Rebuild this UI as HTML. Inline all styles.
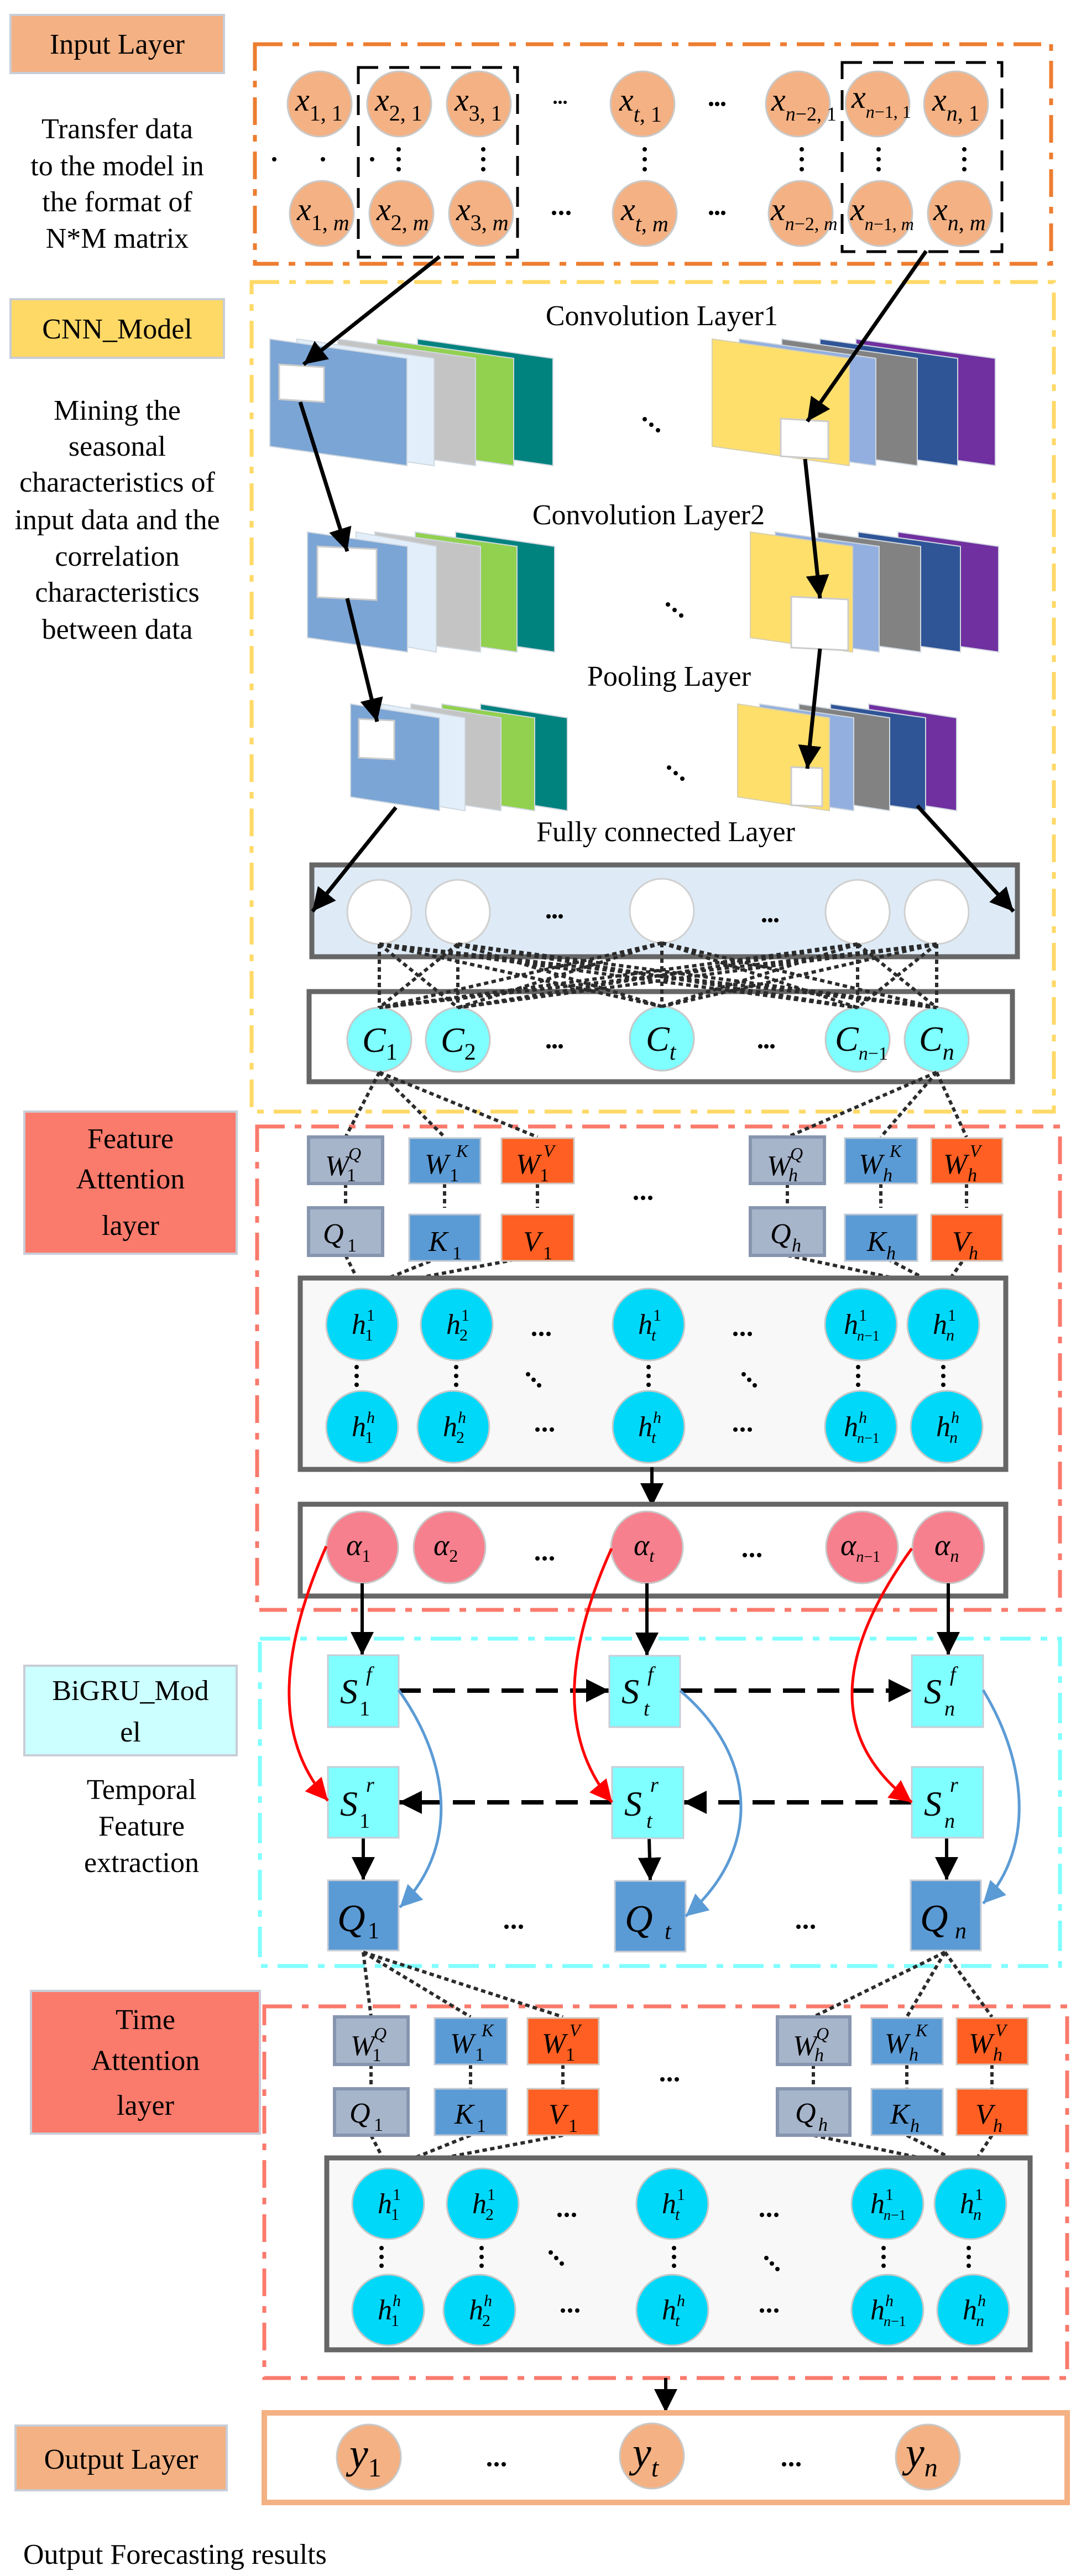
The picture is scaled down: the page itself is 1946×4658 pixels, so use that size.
<!DOCTYPE html>
<html><head><meta charset="utf-8"><style>
html,body{margin:0;padding:0;background:#fff;}
svg{display:block;}
text{font-family:"Liberation Serif",serif;fill:#000;}
.lbl{font-size:52px;text-anchor:middle;}
.m{font-style:italic;}
</style></head><body>
<svg width="1946" height="4658" viewBox="0 0 1946 4658" xmlns="http://www.w3.org/2000/svg">
<defs>
<marker id="ab" viewBox="0 0 10 10" refX="10" refY="5" markerWidth="42" markerHeight="42" markerUnits="userSpaceOnUse" orient="auto"><path d="M0,0 L10,5 L0,10z" fill="#000"/></marker>
<marker id="ar" viewBox="0 0 10 10" refX="10" refY="5" markerWidth="40" markerHeight="40" markerUnits="userSpaceOnUse" orient="auto"><path d="M0,0 L10,5 L0,10z" fill="#f00"/></marker>
<marker id="abl" viewBox="0 0 10 10" refX="10" refY="5" markerWidth="40" markerHeight="40" markerUnits="userSpaceOnUse" orient="auto"><path d="M0,0 L10,5 L0,10z" fill="#5B9BD5"/></marker>
</defs>

<!-- ============ LEFT LABELS ============ -->
<rect x="19" y="27" width="386" height="105" fill="#F4B183" stroke="#C8CDD6" stroke-width="4"/>
<text class="lbl" x="212" y="97">Input Layer</text>
<text class="lbl" x="212" y="250">Transfer data</text>
<text class="lbl" x="212" y="317">to the model in</text>
<text class="lbl" x="212" y="382">the format of</text>
<text class="lbl" x="212" y="448">N*M matrix</text>

<rect x="19" y="541" width="386" height="106" fill="#FFD966" stroke="#C8CDD6" stroke-width="4"/>
<text class="lbl" x="212" y="612">CNN_Model</text>
<text class="lbl" x="212" y="759">Mining the</text>
<text class="lbl" x="212" y="824">seasonal</text>
<text class="lbl" x="212" y="889">characteristics of</text>
<text class="lbl" x="212" y="957">input data and the</text>
<text class="lbl" x="212" y="1023">correlation</text>
<text class="lbl" x="212" y="1088">characteristics</text>
<text class="lbl" x="212" y="1155">between data</text>

<rect x="44" y="2010" width="384" height="257" fill="#FA7A6C" stroke="#C8CDD6" stroke-width="4"/>
<text class="lbl" x="236" y="2076">Feature</text>
<text class="lbl" x="236" y="2149">Attention</text>
<text class="lbl" x="236" y="2233">layer</text>

<rect x="44" y="3012" width="384" height="162" fill="#CCFFFF" stroke="#C8CDD6" stroke-width="4"/>
<text class="lbl" x="236" y="3074">BiGRU_Mod</text>
<text class="lbl" x="236" y="3149">el</text>
<text class="lbl" x="256" y="3253">Temporal</text>
<text class="lbl" x="256" y="3319">Feature</text>
<text class="lbl" x="256" y="3385">extraction</text>

<rect x="56" y="3600" width="414" height="258" fill="#FA7A6C" stroke="#C8CDD6" stroke-width="4"/>
<text class="lbl" x="263" y="3669">Time</text>
<text class="lbl" x="263" y="3743">Attention</text>
<text class="lbl" x="263" y="3824">layer</text>

<rect x="28" y="4386" width="382" height="117" fill="#F4B183" stroke="#C8CDD6" stroke-width="4"/>
<text class="lbl" x="219" y="4464">Output Layer</text>
<text x="42" y="4636" style="font-size:52px">Output Forecasting results</text>

<!-- ============ INPUT LAYER ============ -->
<rect x="461" y="80" width="1440" height="397" fill="none" stroke="#ED7D31" stroke-width="7" stroke-dasharray="50 18 12 18"/>
<rect x="648" y="122" width="288" height="343" fill="none" stroke="#000" stroke-width="5" stroke-dasharray="36 20"/>
<rect x="1523" y="113" width="289" height="342" fill="none" stroke="#000" stroke-width="5" stroke-dasharray="36 20"/>
<g fill="#F4B183" stroke="#C9C9C9" stroke-width="3">
<ellipse cx="578" cy="188" rx="58" ry="59"/><ellipse cx="722" cy="188" rx="58" ry="59"/><ellipse cx="866" cy="188" rx="58" ry="59"/><ellipse cx="1162" cy="188" rx="58" ry="59"/><ellipse cx="1443" cy="188" rx="58" ry="59"/><ellipse cx="1587" cy="188" rx="58" ry="59"/><ellipse cx="1729" cy="188" rx="58" ry="59"/>
<ellipse cx="582" cy="386" rx="58" ry="59"/><ellipse cx="726" cy="386" rx="58" ry="59"/><ellipse cx="870" cy="386" rx="58" ry="59"/><ellipse cx="1166" cy="386" rx="58" ry="59"/><ellipse cx="1448" cy="386" rx="58" ry="59"/><ellipse cx="1592" cy="386" rx="58" ry="59"/><ellipse cx="1736" cy="386" rx="58" ry="59"/>
</g>
<g style="font-size:58px">
<text x="534" y="200"><tspan class="m">x</tspan><tspan style="font-size:40px" dy="18">1, 1</tspan></text>
<text x="678" y="200"><tspan class="m">x</tspan><tspan style="font-size:40px" dy="18">2, 1</tspan></text>
<text x="822" y="200"><tspan class="m">x</tspan><tspan style="font-size:40px" dy="18">3, 1</tspan></text>
<text x="1120" y="200"><tspan class="m">x</tspan><tspan style="font-size:40px" dy="20"><tspan class="m">t</tspan>, 1</tspan></text>
<text x="1395" y="200"><tspan class="m">x</tspan><tspan style="font-size:36px" dy="18"><tspan class="m">n</tspan>−2, 1</tspan></text>
<text x="1540" y="195"><tspan class="m">x</tspan><tspan style="font-size:32px" dy="18"><tspan class="m">n</tspan>−1, 1</tspan></text>
<text x="1686" y="200"><tspan class="m">x</tspan><tspan style="font-size:40px" dy="18"><tspan class="m">n</tspan>, 1</tspan></text>
<text x="537" y="398"><tspan class="m">x</tspan><tspan style="font-size:40px" dy="18">1, <tspan class="m">m</tspan></tspan></text>
<text x="681" y="398"><tspan class="m">x</tspan><tspan style="font-size:40px" dy="18">2, <tspan class="m">m</tspan></tspan></text>
<text x="825" y="398"><tspan class="m">x</tspan><tspan style="font-size:40px" dy="18">3, <tspan class="m">m</tspan></tspan></text>
<text x="1123" y="398"><tspan class="m">x</tspan><tspan style="font-size:40px" dy="20"><tspan class="m">t</tspan>, <tspan class="m">m</tspan></tspan></text>
<text x="1394" y="398"><tspan class="m">x</tspan><tspan style="font-size:34px" dy="18"><tspan class="m">n</tspan>−2, <tspan class="m">m</tspan></tspan></text>
<text x="1538" y="398"><tspan class="m">x</tspan><tspan style="font-size:32px" dy="18"><tspan class="m">n</tspan>−1, <tspan class="m">m</tspan></tspan></text>
<text x="1688" y="398"><tspan class="m">x</tspan><tspan style="font-size:40px" dy="18"><tspan class="m">n</tspan>, <tspan class="m">m</tspan></tspan></text>
</g>
<g fill="#000">
<circle cx="496" cy="288" r="4"/><circle cx="584" cy="288" r="4"/><circle cx="673" cy="288" r="4"/>
<circle cx="721" cy="270" r="4"/><circle cx="721" cy="288" r="4"/><circle cx="721" cy="306" r="4"/>
<circle cx="874" cy="270" r="4"/><circle cx="874" cy="288" r="4"/><circle cx="874" cy="306" r="4"/>
<circle cx="1166" cy="270" r="4"/><circle cx="1166" cy="288" r="4"/><circle cx="1166" cy="306" r="4"/>
<circle cx="1450" cy="270" r="4"/><circle cx="1450" cy="288" r="4"/><circle cx="1450" cy="306" r="4"/>
<circle cx="1589" cy="270" r="4"/><circle cx="1589" cy="288" r="4"/><circle cx="1589" cy="306" r="4"/>
<circle cx="1744" cy="270" r="4"/><circle cx="1744" cy="288" r="4"/><circle cx="1744" cy="306" r="4"/>
<circle cx="1004" cy="185" r="3"/><circle cx="1013" cy="185" r="3"/><circle cx="1022" cy="185" r="3"/>
<circle cx="1286" cy="188" r="4"/><circle cx="1297" cy="188" r="4"/><circle cx="1308" cy="188" r="4"/>
<circle cx="1002" cy="385" r="4"/><circle cx="1015" cy="385" r="4"/><circle cx="1028" cy="385" r="4"/>
<circle cx="1286" cy="385" r="4"/><circle cx="1297" cy="385" r="4"/><circle cx="1308" cy="385" r="4"/>
</g>

<!-- ============ CNN ============ -->
<rect x="455" y="510" width="1451" height="1500" fill="none" stroke="#FFD966" stroke-width="7" stroke-dasharray="50 18 12 18"/>
<text class="lbl" x="1197" y="588">Convolution Layer1</text>
<text class="lbl" x="1173" y="948">Convolution Layer2</text>
<text class="lbl" x="1210" y="1240">Pooling Layer</text>
<text class="lbl" x="1204" y="1521">Fully connected Layer</text>

<g stroke="#D0D8E0" stroke-width="2">
<polygon points="755,613 1000,648 1000,842 755,807" fill="#00827F"/>
<polygon points="682,613 929,648 929,842 682,807" fill="#92D050"/>
<polygon points="611,613 860,648 860,842 611,807" fill="#C4C4C4"/>
<polygon points="537,613 785,648 785,842 537,807" fill="#E2EFFA"/>
<polygon points="488,613 736,648 736,842 488,807" fill="#7BA5D5"/>
<polygon points="505,659 586,664 586,727 505,722" fill="#fff" stroke="#ccc" stroke-width="3"/>
<polygon points="1548,613 1800,648 1800,842 1548,807" fill="#7030A0"/>
<polygon points="1483,613 1732,648 1732,842 1483,807" fill="#2F5597"/>
<polygon points="1414,613 1659,648 1659,842 1414,807" fill="#828282"/>
<polygon points="1337,613 1584,648 1584,842 1337,807" fill="#93AFE0"/>
<polygon points="1288,613 1536,648 1536,842 1288,807" fill="#FFDF6B" stroke="#D6D0B0"/>
<polygon points="1412,757 1498,762 1498,830 1412,825" fill="#fff" stroke="#ccc" stroke-width="3"/>
<polygon points="824,962 1003,988 1003,1179 824,1153" fill="#00827F"/>
<polygon points="751,962 935,988 935,1179 751,1153" fill="#92D050"/>
<polygon points="678,962 869,988 869,1179 678,1153" fill="#C4C4C4"/>
<polygon points="644,962 789,988 789,1179 644,1153" fill="#E2EFFA"/>
<polygon points="556,962 737,988 737,1179 556,1153" fill="#7BA5D5"/>
<polygon points="574,988 681,993 681,1085 574,1080" fill="#fff" stroke="#ccc" stroke-width="3"/>
<polygon points="1624,962 1806,988 1806,1179 1624,1153" fill="#7030A0"/>
<polygon points="1552,962 1737,988 1737,1179 1552,1153" fill="#2F5597"/>
<polygon points="1479,962 1665,988 1665,1179 1479,1153" fill="#828282"/>
<polygon points="1402,962 1590,988 1590,1179 1402,1153" fill="#93AFE0"/>
<polygon points="1357,962 1542,988 1542,1179 1357,1153" fill="#FFDF6B" stroke="#D6D0B0"/>
<polygon points="1431,1079 1534,1084 1534,1176 1431,1171" fill="#fff" stroke="#ccc" stroke-width="3"/>
<polygon points="869,1273 1026,1298 1026,1466 869,1441" fill="#00827F"/>
<polygon points="799,1273 967,1298 967,1466 799,1441" fill="#92D050"/>
<polygon points="743,1273 906,1298 906,1466 743,1441" fill="#C4C4C4"/>
<polygon points="690,1273 841,1298 841,1466 690,1441" fill="#E2EFFA"/>
<polygon points="634,1273 795,1298 795,1466 634,1441" fill="#7BA5D5"/>
<polygon points="649,1300 713,1303 713,1373 649,1370" fill="#fff" stroke="#ccc" stroke-width="3"/>
<polygon points="1571,1273 1730,1298 1730,1466 1571,1441" fill="#7030A0"/>
<polygon points="1502,1273 1674,1298 1674,1466 1502,1441" fill="#2F5597"/>
<polygon points="1445,1273 1609,1298 1609,1466 1445,1441" fill="#828282"/>
<polygon points="1374,1273 1544,1298 1544,1466 1374,1441" fill="#93AFE0"/>
<polygon points="1334,1273 1500,1298 1500,1466 1334,1441" fill="#FFDF6B" stroke="#D6D0B0"/>
<polygon points="1431,1387 1487,1389 1487,1458 1431,1456" fill="#fff" stroke="#ccc" stroke-width="3"/>
</g>
<g fill="#000">
<circle cx="1166" cy="758" r="4"/><circle cx="1178" cy="768" r="4"/><circle cx="1190" cy="778" r="4"/>
<circle cx="1208" cy="1093" r="4"/><circle cx="1220" cy="1103" r="4"/><circle cx="1232" cy="1113" r="4"/>
<circle cx="1210" cy="1388" r="4"/><circle cx="1222" cy="1398" r="4"/><circle cx="1234" cy="1408" r="4"/>
</g>
<g stroke="#000" stroke-width="7" fill="none" marker-end="url(#ab)">
<line x1="795" y1="464" x2="549" y2="659"/>
<line x1="1675" y1="454" x2="1460" y2="762"/>
<line x1="543" y1="727" x2="628" y2="997"/>
<line x1="1456" y1="830" x2="1483" y2="1082"/>
<line x1="628" y1="1082" x2="682" y2="1305"/>
<line x1="1483" y1="1173" x2="1460" y2="1390"/>
</g>

<!-- FC box -->
<rect x="564" y="1564" width="1276" height="166" fill="#DEEBF7" stroke="#666" stroke-width="9"/>
<g stroke="#000" stroke-width="7" fill="none" marker-end="url(#ab)">
<line x1="716" y1="1460" x2="565" y2="1648"/>
<line x1="1659" y1="1457" x2="1833" y2="1648"/>
</g>
<g fill="#fff" stroke="#D0D0D0" stroke-width="3">
<ellipse cx="686" cy="1649" rx="58" ry="58"/><ellipse cx="828" cy="1649" rx="58" ry="58"/><ellipse cx="1197" cy="1647" rx="58" ry="58"/><ellipse cx="1551" cy="1649" rx="58" ry="58"/><ellipse cx="1694" cy="1649" rx="58" ry="58"/>
</g>
<rect x="559" y="1793" width="1272" height="163" fill="#fff" stroke="#666" stroke-width="9"/>
<g fill="#7FFFFF" stroke="#C8C8C8" stroke-width="3">
<ellipse cx="686" cy="1880" rx="58" ry="58"/><ellipse cx="828" cy="1880" rx="58" ry="58"/><ellipse cx="1197" cy="1878" rx="58" ry="58"/><ellipse cx="1551" cy="1880" rx="58" ry="58"/><ellipse cx="1694" cy="1880" rx="58" ry="58"/>
</g>
<g fill="#000">
<circle cx="992" cy="1657" r="4"/><circle cx="1003" cy="1657" r="4"/><circle cx="1014" cy="1657" r="4"/>
<circle cx="1382" cy="1664" r="4"/><circle cx="1393" cy="1664" r="4"/><circle cx="1404" cy="1664" r="4"/>
<circle cx="992" cy="1892" r="4"/><circle cx="1003" cy="1892" r="4"/><circle cx="1014" cy="1892" r="4"/>
<circle cx="1375" cy="1892" r="4"/><circle cx="1386" cy="1892" r="4"/><circle cx="1397" cy="1892" r="4"/>
</g>
<g stroke="#2B2B2B" stroke-width="6" stroke-dasharray="8 6" fill="none">
<line x1="686" y1="1707" x2="686" y2="1822"/><line x1="686" y1="1707" x2="828" y2="1822"/><line x1="686" y1="1707" x2="1197" y2="1820"/><line x1="686" y1="1707" x2="1551" y2="1822"/><line x1="686" y1="1707" x2="1694" y2="1822"/>
<line x1="828" y1="1707" x2="686" y2="1822"/><line x1="828" y1="1707" x2="828" y2="1822"/><line x1="828" y1="1707" x2="1197" y2="1820"/><line x1="828" y1="1707" x2="1551" y2="1822"/><line x1="828" y1="1707" x2="1694" y2="1822"/>
<line x1="1197" y1="1705" x2="686" y2="1822"/><line x1="1197" y1="1705" x2="828" y2="1822"/><line x1="1197" y1="1705" x2="1197" y2="1820"/><line x1="1197" y1="1705" x2="1551" y2="1822"/><line x1="1197" y1="1705" x2="1694" y2="1822"/>
<line x1="1551" y1="1707" x2="686" y2="1822"/><line x1="1551" y1="1707" x2="828" y2="1822"/><line x1="1551" y1="1707" x2="1197" y2="1820"/><line x1="1551" y1="1707" x2="1551" y2="1822"/><line x1="1551" y1="1707" x2="1694" y2="1822"/>
<line x1="1694" y1="1707" x2="686" y2="1822"/><line x1="1694" y1="1707" x2="828" y2="1822"/><line x1="1694" y1="1707" x2="1197" y2="1820"/><line x1="1694" y1="1707" x2="1551" y2="1822"/><line x1="1694" y1="1707" x2="1694" y2="1822"/>
</g>
<g style="font-size:64px" class="m">
<text x="655" y="1902">C<tspan style="font-size:42px;font-style:normal" dy="14">1</tspan></text>
<text x="797" y="1902">C<tspan style="font-size:42px;font-style:normal" dy="14">2</tspan></text>
<text x="1168" y="1900">C<tspan style="font-size:42px" dy="16">t</tspan></text>
<text x="1510" y="1900">C<tspan style="font-size:34px" dy="16">n<tspan style="font-style:normal">−1</tspan></tspan></text>
<text x="1662" y="1900">C<tspan style="font-size:42px" dy="16">n</tspan></text>
</g>

<!-- ============ FEATURE ATTENTION ============ -->
<rect x="465" y="2037" width="1452" height="874" fill="none" stroke="#FA7A6C" stroke-width="7" stroke-dasharray="50 18 12 18"/>
<g stroke="#2B2B2B" stroke-width="6" stroke-dasharray="8 6" fill="none">
<line x1="686" y1="1939" x2="625" y2="2056"/><line x1="686" y1="1939" x2="804" y2="2056"/><line x1="686" y1="1939" x2="972" y2="2056"/>
<line x1="1694" y1="1939" x2="1424" y2="2056"/><line x1="1694" y1="1939" x2="1593" y2="2056"/><line x1="1694" y1="1939" x2="1748" y2="2056"/>
<line x1="625" y1="2140" x2="625" y2="2184"/><line x1="804" y1="2140" x2="804" y2="2184"/><line x1="972" y1="2140" x2="972" y2="2184"/>
<line x1="1424" y1="2140" x2="1424" y2="2184"/><line x1="1593" y1="2140" x2="1593" y2="2184"/><line x1="1748" y1="2140" x2="1748" y2="2184"/>
<line x1="625" y1="2270" x2="655" y2="2330"/><line x1="804" y1="2270" x2="655" y2="2330"/><line x1="972" y1="2270" x2="655" y2="2330"/>
<line x1="1424" y1="2270" x2="1706" y2="2330"/><line x1="1593" y1="2270" x2="1706" y2="2330"/><line x1="1748" y1="2270" x2="1706" y2="2330"/>
</g>
<g>
<rect x="558" y="2056" width="134" height="84" fill="#A7B5CB" stroke="#8796AE" stroke-width="6"/>
<rect x="740" y="2058" width="129" height="82" fill="#5B9BD5" stroke="#C0C8D4" stroke-width="3"/>
<rect x="907" y="2058" width="131" height="82" fill="#FF5F22" stroke="#D0C8C0" stroke-width="3"/>
<rect x="1357" y="2056" width="134" height="84" fill="#A7B5CB" stroke="#8796AE" stroke-width="6"/>
<rect x="1528" y="2058" width="131" height="82" fill="#5B9BD5" stroke="#C0C8D4" stroke-width="3"/>
<rect x="1684" y="2058" width="129" height="82" fill="#FF5F22" stroke="#D0C8C0" stroke-width="3"/>
<rect x="558" y="2184" width="134" height="86" fill="#A7B5CB" stroke="#8796AE" stroke-width="6"/>
<rect x="740" y="2196" width="129" height="84" fill="#5B9BD5" stroke="#C0C8D4" stroke-width="3"/>
<rect x="907" y="2196" width="131" height="84" fill="#FF5F22" stroke="#D0C8C0" stroke-width="3"/>
<rect x="1357" y="2184" width="134" height="86" fill="#A7B5CB" stroke="#8796AE" stroke-width="6"/>
<rect x="1528" y="2196" width="131" height="84" fill="#5B9BD5" stroke="#C0C8D4" stroke-width="3"/>
<rect x="1684" y="2196" width="129" height="84" fill="#FF5F22" stroke="#D0C8C0" stroke-width="3"/>
</g>
<g style="font-size:52px">
<text x="588" y="2125" class="m">W</text><text x="630" y="2097" class="m" style="font-size:32px">Q</text><text x="627" y="2136" style="font-size:34px">1</text>
<text x="768" y="2122" class="m">W</text><text x="825" y="2092" class="m" style="font-size:32px">K</text><text x="813" y="2136" style="font-size:34px">1</text>
<text x="933" y="2122" class="m">W</text><text x="983" y="2092" class="m" style="font-size:32px">V</text><text x="976" y="2136" style="font-size:34px">1</text>
<text x="1387" y="2125" class="m">W</text><text x="1429" y="2097" class="m" style="font-size:32px">Q</text><text x="1426" y="2136" class="m" style="font-size:34px">h</text>
<text x="1553" y="2122" class="m">W</text><text x="1609" y="2092" class="m" style="font-size:32px">K</text><text x="1597" y="2136" class="m" style="font-size:34px">h</text>
<text x="1706" y="2122" class="m">W</text><text x="1754" y="2092" class="m" style="font-size:32px">V</text><text x="1750" y="2136" class="m" style="font-size:34px">h</text>
<text x="584" y="2248" class="m">Q</text><text x="628" y="2263" style="font-size:34px">1</text>
<text x="775" y="2262" class="m">K</text><text x="818" y="2277" style="font-size:34px">1</text>
<text x="946" y="2262" class="m">V</text><text x="982" y="2277" style="font-size:34px">1</text>
<text x="1393" y="2248" class="m">Q</text><text x="1432" y="2263" class="m" style="font-size:34px">h</text>
<text x="1568" y="2262" class="m">K</text><text x="1603" y="2277" class="m" style="font-size:34px">h</text>
<text x="1722" y="2262" class="m">V</text><text x="1752" y="2277" class="m" style="font-size:34px">h</text>
</g>
<g fill="#000"><circle cx="1150" cy="2166" r="4"/><circle cx="1163" cy="2166" r="4"/><circle cx="1176" cy="2166" r="4"/></g>

<rect x="543" y="2311" width="1276" height="346" fill="#F8F8F8" stroke="#666" stroke-width="9"/>
<g fill="#00D8FA" stroke="#C8C8C8" stroke-width="3">
<ellipse cx="655" cy="2395" rx="65" ry="65"/><ellipse cx="826" cy="2395" rx="65" ry="65"/><ellipse cx="1173" cy="2395" rx="65" ry="65"/><ellipse cx="1557" cy="2395" rx="65" ry="65"/><ellipse cx="1706" cy="2395" rx="65" ry="65"/>
<ellipse cx="655" cy="2580" rx="65" ry="65"/><ellipse cx="820" cy="2580" rx="65" ry="65"/><ellipse cx="1173" cy="2580" rx="65" ry="65"/><ellipse cx="1557" cy="2580" rx="65" ry="65"/><ellipse cx="1712" cy="2580" rx="65" ry="65"/>
</g>
<g fill="#000">
<circle cx="966" cy="2412" r="4"/><circle cx="979" cy="2412" r="4"/><circle cx="992" cy="2412" r="4"/>
<circle cx="1330" cy="2412" r="4"/><circle cx="1343" cy="2412" r="4"/><circle cx="1356" cy="2412" r="4"/>
<circle cx="972" cy="2585" r="4"/><circle cx="985" cy="2585" r="4"/><circle cx="998" cy="2585" r="4"/>
<circle cx="1330" cy="2585" r="4"/><circle cx="1343" cy="2585" r="4"/><circle cx="1356" cy="2585" r="4"/>
<circle cx="645" cy="2472" r="4"/><circle cx="645" cy="2488" r="4"/><circle cx="645" cy="2504" r="4"/>
<circle cx="825" cy="2472" r="4"/><circle cx="825" cy="2488" r="4"/><circle cx="825" cy="2504" r="4"/>
<circle cx="1173" cy="2472" r="4"/><circle cx="1173" cy="2488" r="4"/><circle cx="1173" cy="2504" r="4"/>
<circle cx="1552" cy="2472" r="4"/><circle cx="1552" cy="2488" r="4"/><circle cx="1552" cy="2504" r="4"/>
<circle cx="1706" cy="2472" r="4"/><circle cx="1706" cy="2488" r="4"/><circle cx="1706" cy="2504" r="4"/>
<circle cx="955" cy="2485" r="4"/><circle cx="965" cy="2495" r="4"/><circle cx="975" cy="2505" r="4"/>
<circle cx="1345" cy="2485" r="4"/><circle cx="1355" cy="2495" r="4"/><circle cx="1365" cy="2505" r="4"/>
</g>
<g style="font-size:52px">
<text x="636" y="2412" class="m">h</text><text x="663" y="2388" style="font-size:30px">1</text><text x="660" y="2424" style="font-size:30px">1</text>
<text x="807" y="2412" class="m">h</text><text x="834" y="2388" style="font-size:30px">1</text><text x="831" y="2424" style="font-size:30px">2</text>
<text x="1154" y="2412" class="m">h</text><text x="1181" y="2388" style="font-size:30px">1</text><text x="1178" y="2424" class="m" style="font-size:30px">t</text>
<text x="1526" y="2412" class="m">h</text><text x="1553" y="2388" style="font-size:30px">1</text><text x="1550" y="2424" style="font-size:26px"><tspan class="m">n</tspan>−1</text>
<text x="1687" y="2412" class="m">h</text><text x="1714" y="2388" style="font-size:30px">1</text><text x="1711" y="2424" class="m" style="font-size:30px">n</text>
<text x="636" y="2597" class="m">h</text><text x="663" y="2573" class="m" style="font-size:30px">h</text><text x="660" y="2609" style="font-size:30px">1</text>
<text x="801" y="2597" class="m">h</text><text x="828" y="2573" class="m" style="font-size:30px">h</text><text x="825" y="2609" style="font-size:30px">2</text>
<text x="1154" y="2597" class="m">h</text><text x="1181" y="2573" class="m" style="font-size:30px">h</text><text x="1178" y="2609" class="m" style="font-size:30px">t</text>
<text x="1526" y="2597" class="m">h</text><text x="1553" y="2573" class="m" style="font-size:30px">h</text><text x="1550" y="2609" style="font-size:26px"><tspan class="m">n</tspan>−1</text>
<text x="1693" y="2597" class="m">h</text><text x="1720" y="2573" class="m" style="font-size:30px">h</text><text x="1717" y="2609" class="m" style="font-size:30px">n</text>
</g>
<line x1="1179" y1="2653" x2="1179" y2="2724" stroke="#000" stroke-width="6" marker-end="url(#ab)"/>

<rect x="543" y="2720" width="1276" height="166" fill="#fff" stroke="#666" stroke-width="9"/>
<g fill="#F7808E" stroke="#C8C8C8" stroke-width="3">
<ellipse cx="655" cy="2798" rx="65" ry="65"/><ellipse cx="813" cy="2798" rx="65" ry="65"/><ellipse cx="1170" cy="2798" rx="65" ry="65"/><ellipse cx="1559" cy="2798" rx="65" ry="65"/><ellipse cx="1715" cy="2798" rx="65" ry="65"/>
</g>
<g fill="#000">
<circle cx="972" cy="2818" r="4"/><circle cx="985" cy="2818" r="4"/><circle cx="998" cy="2818" r="4"/>
<circle cx="1347" cy="2812" r="4"/><circle cx="1360" cy="2812" r="4"/><circle cx="1373" cy="2812" r="4"/>
</g>
<g style="font-size:54px" class="m">
<text x="626" y="2812">α<tspan style="font-size:32px;font-style:normal" dy="12">1</tspan></text>
<text x="784" y="2812">α<tspan style="font-size:32px;font-style:normal" dy="12">2</tspan></text>
<text x="1146" y="2812">α<tspan style="font-size:32px" dy="12">t</tspan></text>
<text x="1520" y="2812">α<tspan style="font-size:28px" dy="12">n<tspan style="font-style:normal">−1</tspan></tspan></text>
<text x="1690" y="2812">α<tspan style="font-size:32px" dy="12">n</tspan></text>
</g>

<!-- ============ BiGRU ============ -->
<rect x="470" y="2963" width="1447" height="592" fill="none" stroke="#7FFFFF" stroke-width="7" stroke-dasharray="55 18 12 18"/>
<g stroke="#000" stroke-width="6" marker-end="url(#ab)">
<line x1="655" y1="2863" x2="655" y2="2993"/>
<line x1="1170" y1="2863" x2="1170" y2="2994"/>
<line x1="1715" y1="2863" x2="1715" y2="2993"/>
<line x1="657" y1="3324" x2="657" y2="3400"/>
<line x1="1174" y1="3324" x2="1176" y2="3401"/>
<line x1="1712" y1="3324" x2="1712" y2="3400"/>
</g>
<g stroke="#000" stroke-width="8" stroke-dasharray="40 22" marker-end="url(#ab)">
<line x1="721" y1="3057" x2="1102" y2="3057"/>
<line x1="1230" y1="3057" x2="1649" y2="3057"/>
<line x1="1107" y1="3259" x2="721" y2="3259"/>
<line x1="1649" y1="3259" x2="1236" y2="3259"/>
</g>
<g fill="#7FFFFF" stroke="#C8CDD6" stroke-width="3">
<rect x="593" y="2993" width="128" height="130"/><rect x="1102" y="2994" width="128" height="129"/><rect x="1649" y="2993" width="129" height="130"/>
<rect x="593" y="3195" width="128" height="128"/><rect x="1107" y="3195" width="129" height="129"/><rect x="1649" y="3195" width="129" height="128"/>
</g>
<g fill="#5B9BD5" stroke="#C8CDD6" stroke-width="3">
<rect x="593" y="3400" width="128" height="127"/><rect x="1112" y="3401" width="128" height="128"/><rect x="1647" y="3400" width="127" height="127"/>
</g>
<g style="font-size:64px">
<text x="615" y="3080" class="m">S</text><text x="662" y="3040" class="m" style="font-size:38px">f</text><text x="650" y="3102" style="font-size:38px">1</text>
<text x="1124" y="3080" class="m">S</text><text x="1171" y="3040" class="m" style="font-size:38px">f</text><text x="1164" y="3102" class="m" style="font-size:38px">t</text>
<text x="1671" y="3080" class="m">S</text><text x="1718" y="3040" class="m" style="font-size:38px">f</text><text x="1708" y="3102" class="m" style="font-size:38px">n</text>
<text x="615" y="3283" class="m">S</text><text x="662" y="3240" class="m" style="font-size:38px">r</text><text x="650" y="3305" style="font-size:38px">1</text>
<text x="1129" y="3283" class="m">S</text><text x="1176" y="3240" class="m" style="font-size:38px">r</text><text x="1169" y="3305" class="m" style="font-size:38px">t</text>
<text x="1671" y="3283" class="m">S</text><text x="1718" y="3240" class="m" style="font-size:38px">r</text><text x="1708" y="3305" class="m" style="font-size:38px">n</text>
<text x="610" y="3492" class="m" style="font-size:70px">Q</text><text x="665" y="3505" style="font-size:42px">1</text>
<text x="1130" y="3493" class="m" style="font-size:70px">Q</text><text x="1202" y="3506" class="m" style="font-size:42px">t</text>
<text x="1664" y="3492" class="m" style="font-size:70px">Q</text><text x="1727" y="3505" class="m" style="font-size:42px">n</text>
</g>
<g fill="#000">
<circle cx="916" cy="3484" r="4"/><circle cx="929" cy="3484" r="4"/><circle cx="942" cy="3484" r="4"/>
<circle cx="1444" cy="3484" r="4"/><circle cx="1457" cy="3484" r="4"/><circle cx="1470" cy="3484" r="4"/>
</g>
<g stroke="#f00" stroke-width="5" fill="none" marker-end="url(#ar)">
<path d="M590,2796 C500,3000 500,3150 593,3256"/>
<path d="M1106,2800 C1016,3000 1016,3150 1107,3259"/>
<path d="M1649,2800 C1505,3000 1505,3150 1649,3259"/>
</g>
<g stroke="#5B9BD5" stroke-width="5" fill="none" marker-end="url(#abl)">
<path d="M721,3056 C823,3200 823,3350 723,3449"/>
<path d="M1230,3057 C1375,3180 1375,3350 1240,3465"/>
<path d="M1778,3056 C1865,3200 1865,3350 1778,3442"/>
</g>

<!-- ============ TIME ATTENTION ============ -->
<rect x="478" y="3628" width="1452" height="672" fill="none" stroke="#FA7A6C" stroke-width="7" stroke-dasharray="50 18 12 18"/>
<g stroke="#2B2B2B" stroke-width="6" stroke-dasharray="8 6" fill="none">
<line x1="657" y1="3530" x2="671" y2="3647"/><line x1="657" y1="3530" x2="851" y2="3647"/><line x1="657" y1="3530" x2="1018" y2="3647"/>
<line x1="1709" y1="3530" x2="1471" y2="3647"/><line x1="1709" y1="3530" x2="1640" y2="3647"/><line x1="1709" y1="3530" x2="1794" y2="3647"/>
<line x1="671" y1="3733" x2="671" y2="3777"/><line x1="851" y1="3733" x2="851" y2="3777"/><line x1="1018" y1="3733" x2="1018" y2="3777"/>
<line x1="1471" y1="3733" x2="1471" y2="3777"/><line x1="1640" y1="3733" x2="1640" y2="3777"/><line x1="1794" y1="3733" x2="1794" y2="3777"/>
<line x1="671" y1="3861" x2="702" y2="3921"/><line x1="851" y1="3861" x2="702" y2="3921"/><line x1="1018" y1="3861" x2="702" y2="3921"/>
<line x1="1471" y1="3861" x2="1755" y2="3921"/><line x1="1640" y1="3861" x2="1755" y2="3921"/><line x1="1794" y1="3861" x2="1755" y2="3921"/>
</g>
<g>
<rect x="605" y="3647" width="133" height="86" fill="#A7B5CB" stroke="#8796AE" stroke-width="6"/>
<rect x="786" y="3649" width="131" height="84" fill="#5B9BD5" stroke="#C0C8D4" stroke-width="3"/>
<rect x="954" y="3649" width="129" height="84" fill="#FF5F22" stroke="#D0C8C0" stroke-width="3"/>
<rect x="1406" y="3647" width="131" height="86" fill="#A7B5CB" stroke="#8796AE" stroke-width="6"/>
<rect x="1576" y="3649" width="129" height="84" fill="#5B9BD5" stroke="#C0C8D4" stroke-width="3"/>
<rect x="1730" y="3649" width="129" height="84" fill="#FF5F22" stroke="#D0C8C0" stroke-width="3"/>
<rect x="605" y="3777" width="133" height="84" fill="#A7B5CB" stroke="#8796AE" stroke-width="6"/>
<rect x="786" y="3777" width="131" height="84" fill="#5B9BD5" stroke="#C0C8D4" stroke-width="3"/>
<rect x="954" y="3777" width="129" height="84" fill="#FF5F22" stroke="#D0C8C0" stroke-width="3"/>
<rect x="1406" y="3777" width="131" height="84" fill="#A7B5CB" stroke="#8796AE" stroke-width="6"/>
<rect x="1576" y="3777" width="129" height="84" fill="#5B9BD5" stroke="#C0C8D4" stroke-width="3"/>
<rect x="1730" y="3777" width="129" height="84" fill="#FF5F22" stroke="#D0C8C0" stroke-width="3"/>
</g>
<g style="font-size:52px">
<text x="634" y="3716" class="m">W</text><text x="676" y="3688" class="m" style="font-size:32px">Q</text><text x="673" y="3727" style="font-size:34px">1</text>
<text x="814" y="3712" class="m">W</text><text x="871" y="3682" class="m" style="font-size:32px">K</text><text x="859" y="3726" style="font-size:34px">1</text>
<text x="980" y="3712" class="m">W</text><text x="1030" y="3682" class="m" style="font-size:32px">V</text><text x="1023" y="3726" style="font-size:34px">1</text>
<text x="1434" y="3716" class="m">W</text><text x="1476" y="3688" class="m" style="font-size:32px">Q</text><text x="1473" y="3727" class="m" style="font-size:34px">h</text>
<text x="1600" y="3712" class="m">W</text><text x="1656" y="3682" class="m" style="font-size:32px">K</text><text x="1644" y="3726" class="m" style="font-size:34px">h</text>
<text x="1752" y="3712" class="m">W</text><text x="1800" y="3682" class="m" style="font-size:32px">V</text><text x="1796" y="3726" class="m" style="font-size:34px">h</text>
<text x="632" y="3838" class="m">Q</text><text x="676" y="3853" style="font-size:34px">1</text>
<text x="822" y="3840" class="m">K</text><text x="862" y="3855" style="font-size:34px">1</text>
<text x="992" y="3840" class="m">V</text><text x="1028" y="3855" style="font-size:34px">1</text>
<text x="1438" y="3838" class="m">Q</text><text x="1480" y="3853" class="m" style="font-size:34px">h</text>
<text x="1610" y="3840" class="m">K</text><text x="1646" y="3855" class="m" style="font-size:34px">h</text>
<text x="1764" y="3840" class="m">V</text><text x="1796" y="3855" class="m" style="font-size:34px">h</text>
</g>
<g fill="#000"><circle cx="1198" cy="3760" r="4"/><circle cx="1211" cy="3760" r="4"/><circle cx="1224" cy="3760" r="4"/></g>

<rect x="591" y="3902" width="1272" height="347" fill="#F8F8F8" stroke="#666" stroke-width="9"/>
<g fill="#00D8FA" stroke="#C8C8C8" stroke-width="3">
<ellipse cx="702" cy="3985" rx="65" ry="64"/><ellipse cx="873" cy="3985" rx="65" ry="64"/><ellipse cx="1216" cy="3985" rx="65" ry="64"/><ellipse cx="1605" cy="3985" rx="65" ry="64"/><ellipse cx="1755" cy="3985" rx="65" ry="64"/>
<ellipse cx="702" cy="4177" rx="65" ry="64"/><ellipse cx="867" cy="4177" rx="65" ry="64"/><ellipse cx="1216" cy="4177" rx="65" ry="64"/><ellipse cx="1605" cy="4177" rx="65" ry="64"/><ellipse cx="1760" cy="4177" rx="65" ry="64"/>
</g>
<g fill="#000">
<circle cx="1012" cy="4005" r="4"/><circle cx="1025" cy="4005" r="4"/><circle cx="1038" cy="4005" r="4"/>
<circle cx="1378" cy="4005" r="4"/><circle cx="1391" cy="4005" r="4"/><circle cx="1404" cy="4005" r="4"/>
<circle cx="1018" cy="4178" r="4"/><circle cx="1031" cy="4178" r="4"/><circle cx="1044" cy="4178" r="4"/>
<circle cx="1378" cy="4178" r="4"/><circle cx="1391" cy="4178" r="4"/><circle cx="1404" cy="4178" r="4"/>
<circle cx="690" cy="4065" r="4"/><circle cx="690" cy="4081" r="4"/><circle cx="690" cy="4097" r="4"/>
<circle cx="871" cy="4065" r="4"/><circle cx="871" cy="4081" r="4"/><circle cx="871" cy="4097" r="4"/>
<circle cx="1219" cy="4065" r="4"/><circle cx="1219" cy="4081" r="4"/><circle cx="1219" cy="4097" r="4"/>
<circle cx="1598" cy="4065" r="4"/><circle cx="1598" cy="4081" r="4"/><circle cx="1598" cy="4097" r="4"/>
<circle cx="1752" cy="4065" r="4"/><circle cx="1752" cy="4081" r="4"/><circle cx="1752" cy="4097" r="4"/>
<circle cx="996" cy="4073" r="4"/><circle cx="1006" cy="4083" r="4"/><circle cx="1016" cy="4093" r="4"/>
<circle cx="1386" cy="4083" r="4"/><circle cx="1396" cy="4093" r="4"/><circle cx="1406" cy="4103" r="4"/>
</g>
<g style="font-size:52px">
<text x="683" y="4002" class="m">h</text><text x="710" y="3978" style="font-size:30px">1</text><text x="707" y="4014" style="font-size:30px">1</text>
<text x="854" y="4002" class="m">h</text><text x="881" y="3978" style="font-size:30px">1</text><text x="878" y="4014" style="font-size:30px">2</text>
<text x="1197" y="4002" class="m">h</text><text x="1224" y="3978" style="font-size:30px">1</text><text x="1221" y="4014" class="m" style="font-size:30px">t</text>
<text x="1574" y="4002" class="m">h</text><text x="1601" y="3978" style="font-size:30px">1</text><text x="1598" y="4014" style="font-size:26px"><tspan class="m">n</tspan>−1</text>
<text x="1736" y="4002" class="m">h</text><text x="1763" y="3978" style="font-size:30px">1</text><text x="1760" y="4014" class="m" style="font-size:30px">n</text>
<text x="683" y="4194" class="m">h</text><text x="710" y="4170" class="m" style="font-size:30px">h</text><text x="707" y="4206" style="font-size:30px">1</text>
<text x="848" y="4194" class="m">h</text><text x="875" y="4170" class="m" style="font-size:30px">h</text><text x="872" y="4206" style="font-size:30px">2</text>
<text x="1197" y="4194" class="m">h</text><text x="1224" y="4170" class="m" style="font-size:30px">h</text><text x="1221" y="4206" class="m" style="font-size:30px">t</text>
<text x="1574" y="4194" class="m">h</text><text x="1601" y="4170" class="m" style="font-size:30px">h</text><text x="1598" y="4206" style="font-size:26px"><tspan class="m">n</tspan>−1</text>
<text x="1741" y="4194" class="m">h</text><text x="1768" y="4170" class="m" style="font-size:30px">h</text><text x="1765" y="4206" class="m" style="font-size:30px">n</text>
</g>
<line x1="1204" y1="4300" x2="1204" y2="4362" stroke="#000" stroke-width="6" marker-end="url(#ab)"/>

<!-- ============ OUTPUT ============ -->
<rect x="478" y="4363" width="1452" height="162" fill="#fff" stroke="#F4B183" stroke-width="10"/>
<g fill="#F4B183" stroke="#C9C9C9" stroke-width="3">
<ellipse cx="667" cy="4443" rx="58" ry="59"/><ellipse cx="1179" cy="4441" rx="58" ry="59"/><ellipse cx="1678" cy="4443" rx="58" ry="59"/>
</g>
<g style="font-size:76px" class="m">
<text x="632" y="4462">y<tspan style="font-size:48px;font-style:normal" dy="16">1</tspan></text>
<text x="1144" y="4460">y<tspan style="font-size:48px" dy="18">t</tspan></text>
<text x="1638" y="4460">y<tspan style="font-size:48px" dy="18">n</tspan></text>
</g>
<g fill="#000">
<circle cx="885" cy="4456" r="4"/><circle cx="898" cy="4456" r="4"/><circle cx="911" cy="4456" r="4"/>
<circle cx="1418" cy="4456" r="4"/><circle cx="1431" cy="4456" r="4"/><circle cx="1444" cy="4456" r="4"/>
</g>
</svg>
</body></html>
